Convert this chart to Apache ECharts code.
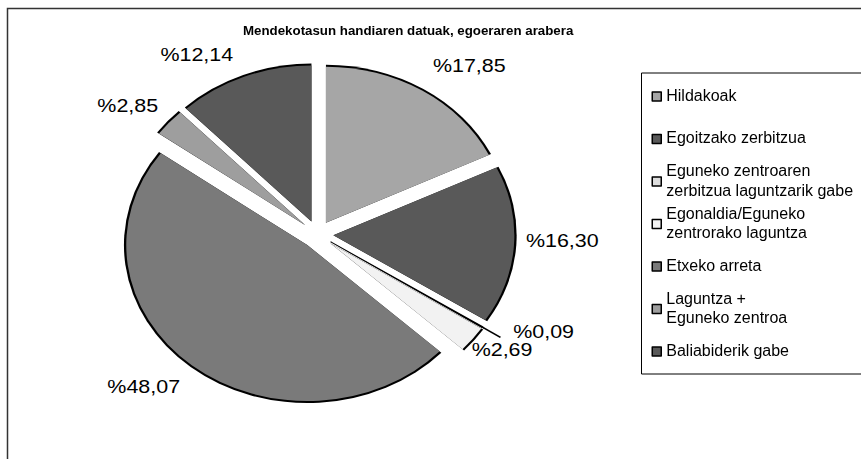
<!DOCTYPE html>
<html>
<head>
<meta charset="utf-8">
<script src="https://cdn.jsdelivr.net/npm/echarts@6/dist/echarts.min.js"></script>
<style>
html,body{margin:0;padding:0;background:#fff;overflow:hidden}
#wrap{position:relative;width:861px;height:459px}
#pie{position:absolute;left:0;top:0;width:861px;height:459px;transform:scaleX(1.16);transform-origin:317.4px 0}
#main{position:absolute;left:0;top:0;width:861px;height:459px}
</style>
</head>
<body>
<div id="wrap"><div id="pie"></div><div id="main"></div></div>
<script>
// ---- data ----
const chartTitle = 'Mendekotasun handiaren datuak, egoeraren arabera';
const categories = [
  'Hildakoak',
  'Egoitzako zerbitzua',
  'Eguneko zentroaren\nzerbitzua laguntzarik gabe',
  'Egonaldia/Eguneko\nzentrorako laguntza',
  'Etxeko arreta',
  'Laguntza +\nEguneko zentroa',
  'Baliabiderik gabe'
];
const values = [17.85, 16.30, 0.09, 2.69, 48.07, 2.85, 12.14];

// ---- styles ----
const sliceColors = ['#a6a6a6', '#595959', '#dddddd', '#f2f2f2', '#7a7a7a', '#9e9e9e', '#595959'];
const labelLens  = [29.6, 5.3, 18.6, 16, 27.2, 27, 24];
const labelDists = [-6.5, 5, 11, -13.2, -6.9, -10.9, 0.5];
const labelRaise = [0, 5, 6, 0, 0, 0, 0];
const FONT = "'Liberation Sans', Arial, sans-serif";
const LABEL_SIZE = 18.5;
const CENTER = [317.4, 234.4];
const R = 156;
const OFFSET = 13.8;

function fmtPct(v) { return '%' + v.toFixed(2).replace('.', ','); }

const labelRich = {};
labelRaise.forEach((r, i) => {
  labelRich['r' + i] = {fontSize: LABEL_SIZE, fontFamily: FONT, color: '#000',
    lineHeight: LABEL_SIZE + 2 * r, verticalAlign: 'top'};
});

// ---- pie (stretched horizontally, like the reference) ----
const pieChart = echarts.init(document.getElementById('pie'), null, {renderer: 'svg'});
const ringData = categories.map((name, i) => ({name: name, value: values[i], selected: true}));
const pieData = categories.map((name, i) => ({
  name: name,
  value: values[i],
  selected: true,
  itemStyle: i === 2 ? {color: sliceColors[i], borderColor: '#000', borderWidth: 1} : {color: sliceColors[i]},
  label: {distanceToLabelLine: labelDists[i]},
  labelLine: {show: i === 2, length: labelLens[i], length2: 0}
}));
pieChart.setOption({
  animation: false,
  series: [
    {
      type: 'pie', center: CENTER, radius: R + 2, startAngle: 90, clockwise: true,
      selectedMode: 'multiple', selectedOffset: OFFSET,
      data: ringData, itemStyle: {color: '#000', borderWidth: 0},
      label: {show: false}, labelLine: {show: false},
      silent: true, emphasis: {disabled: true}, z: 1
    },
    {
      type: 'pie', center: CENTER, radius: R, startAngle: 90, clockwise: true,
      selectedMode: 'multiple', selectedOffset: OFFSET, avoidLabelOverlap: false,
      labelLayout: {hideOverlap: false},
      data: pieData, itemStyle: {borderWidth: 0},
      label: {show: true, position: 'outside', color: '#000', fontSize: LABEL_SIZE, fontFamily: FONT,
        formatter: p => '{r' + p.dataIndex + '|' + fmtPct(p.value) + '}', rich: labelRich},
      labelLine: {lineStyle: {color: '#000', width: 1.5}},
      silent: true, emphasis: {disabled: true}, z: 2
    }
  ]
});

// ---- title, legend, frame ----
const singleLine = {color: '#000', fontSize: 16, fontFamily: FONT, lineHeight: 16, padding: [11.5, 0, 11.5, 0]};
const doubleLine = {color: '#000', fontSize: 16, fontFamily: FONT, lineHeight: 19.5, padding: 0};
const mainChart = echarts.init(document.getElementById('main'));
mainChart.setOption({
  animation: false,
  title: {
    text: chartTitle, left: 243, top: 25, padding: 0,
    textStyle: {fontSize: 13.3, fontWeight: 'bold', color: '#000', fontFamily: FONT}
  },
  graphic: [{
    type: 'rect', silent: true,
    shape: {x: 7.5, y: 8.5, width: 1000, height: 1000},
    style: {fill: 'none', stroke: '#333', lineWidth: 1.5}
  }],
  legend: {
    orient: 'vertical', left: 641.5, top: 73,
    padding: [4, 40, 3, 10],
    itemWidth: 9, itemHeight: 9, itemGap: 3.5, icon: 'rect',
    borderColor: '#000', borderWidth: 1,
    itemStyle: {borderColor: '#000', borderWidth: 1.5},
    selectedMode: false,
    textStyle: {color: '#000', fontSize: 16, fontFamily: FONT},
    data: categories.map(name => ({
      name: name,
      textStyle: name.indexOf('\n') >= 0 ? doubleLine : singleLine
    }))
  },
  series: [{
    type: 'pie', center: CENTER, radius: [0, 0], silent: true,
    data: categories.map((name, i) => ({name: name, value: values[i], itemStyle: {color: sliceColors[i]}})),
    label: {show: false}, labelLine: {show: false}
  }]
});
</script>
</body>
</html>
